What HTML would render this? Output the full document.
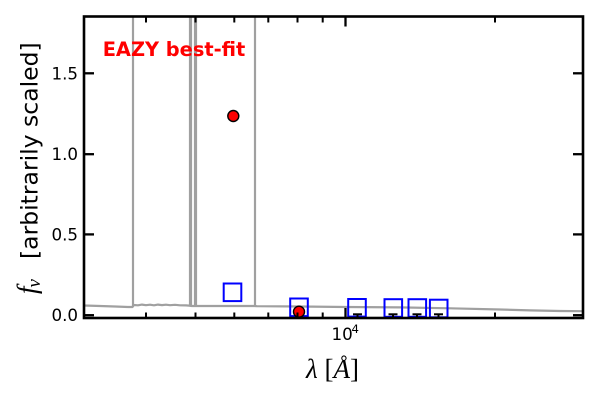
<!DOCTYPE html>
<html>
<head>
<meta charset="utf-8">
<style>
  html, body { margin: 0; padding: 0; background: #ffffff; }
  svg { display: block; }
</style>
</head>
<body>
<svg width="600" height="400" viewBox="0 0 600 400" xmlns="http://www.w3.org/2000/svg">
  <rect x="0" y="0" width="600" height="400" fill="#ffffff"/>
  <defs>
    <clipPath id="ax">
      <rect x="84" y="16.5" width="499" height="301.5"/>
    </clipPath>
  </defs>

  <g clip-path="url(#ax)">
    <!-- spectrum -->
    <polyline fill="none" stroke="#a0a0a0" stroke-width="2.2" stroke-linejoin="round"
      points="84,305.5 100,306 115,306.5 128,307 132.5,307 133.5,305 138,305.3 142,304.6 146,305.2 150,304.7 154,305.3 158,304.6 162,305.1 166,304.7 170,305.2 175,304.8 180,305.3 186,305.4 189,305.6 192,306 198,306 220,306 254,306 257,306.2 300,306.5 345,307 400,307.4 450,308.3 500,309.5 530,310.4 560,311 584,311.2"/>
    <!-- emission lines -->
    <line x1="133" y1="0" x2="133" y2="307" stroke="#a0a0a0" stroke-width="2.2"/>
    <line x1="190.5" y1="0" x2="190.5" y2="306" stroke="#a0a0a0" stroke-width="3.2"/>
    <line x1="195.5" y1="0" x2="195.5" y2="306" stroke="#a0a0a0" stroke-width="3.2"/>
    <line x1="255" y1="0" x2="255" y2="306" stroke="#a0a0a0" stroke-width="2.2"/>

    <!-- blue open squares -->
    <g fill="none" stroke="#0000ff" stroke-width="2">
      <rect x="223.7" y="283.5" width="17.6" height="17.6"/>
      <rect x="290.2" y="298.5" width="17.6" height="17.6"/>
      <rect x="348.2" y="299" width="17.6" height="17.6"/>
      <rect x="384.5" y="299.2" width="17.6" height="17.6"/>
      <rect x="408.5" y="299.2" width="17.6" height="17.6"/>
      <rect x="429.9" y="299.7" width="17.6" height="17.6"/>
    </g>

    <!-- error bar caps -->
    <g stroke="#000000" stroke-width="2">
      <line x1="353" y1="314.3" x2="362" y2="314.3"/>
      <line x1="357.5" y1="314.3" x2="357.5" y2="318"/>
      <line x1="388.5" y1="314.3" x2="397.5" y2="314.3"/>
      <line x1="393" y1="314.3" x2="393" y2="318"/>
      <line x1="412.5" y1="314.3" x2="421.5" y2="314.3"/>
      <line x1="417" y1="314.3" x2="417" y2="318"/>
      <line x1="434" y1="314.3" x2="443" y2="314.3"/>
      <line x1="438.5" y1="314.3" x2="438.5" y2="318"/>
    </g>

    <!-- red circles -->
    <circle cx="233.3" cy="116" r="5.5" fill="#ff0000" stroke="#000000" stroke-width="1.4"/>
    <circle cx="299" cy="311.7" r="5.5" fill="#ff0000" stroke="#000000" stroke-width="1.4"/>
  </g>

  <!-- ticks -->
  <g stroke="#000000" stroke-width="2.3">
    <line x1="84" y1="73.3" x2="94" y2="73.3"/>
    <line x1="84" y1="154.2" x2="94" y2="154.2"/>
    <line x1="84" y1="234.4" x2="94" y2="234.4"/>
    <line x1="84" y1="315.2" x2="94" y2="315.2"/>
    <line x1="573" y1="73.3" x2="583" y2="73.3"/>
    <line x1="573" y1="154.2" x2="583" y2="154.2"/>
    <line x1="573" y1="234.4" x2="583" y2="234.4"/>
    <line x1="573" y1="315.2" x2="583" y2="315.2"/>
    <line x1="345.5" y1="318" x2="345.5" y2="308"/>
    <line x1="345.5" y1="16.5" x2="345.5" y2="26.5"/>
  </g>
  <g stroke="#000000" stroke-width="2">
    <line x1="146" y1="318" x2="146" y2="312.5"/>
    <line x1="195.5" y1="318" x2="195.5" y2="312.5"/>
    <line x1="234.3" y1="318" x2="234.3" y2="312.5"/>
    <line x1="268.3" y1="318" x2="268.3" y2="312.5"/>
    <line x1="297.5" y1="318" x2="297.5" y2="312.5"/>
    <line x1="322.7" y1="318" x2="322.7" y2="312.5"/>
    <line x1="495" y1="318" x2="495" y2="312.5"/>
    <line x1="146" y1="16.5" x2="146" y2="22.5"/>
    <line x1="195.5" y1="16.5" x2="195.5" y2="22.5"/>
    <line x1="234.3" y1="16.5" x2="234.3" y2="22.5"/>
    <line x1="268.3" y1="16.5" x2="268.3" y2="22.5"/>
    <line x1="297.5" y1="16.5" x2="297.5" y2="22.5"/>
    <line x1="322.7" y1="16.5" x2="322.7" y2="22.5"/>
    <line x1="495" y1="16.5" x2="495" y2="22.5"/>
  </g>

  <!-- spines -->
  <rect x="84" y="16.5" width="499" height="301.5" fill="none" stroke="#000000" stroke-width="2.6"/>

  <!-- y tick labels -->
  <g font-family="'DejaVu Sans', 'Liberation Sans', sans-serif" font-size="16.7" fill="#000000" text-anchor="end">
    <text x="78" y="79.3">1.5</text>
    <text x="78" y="160.2">1.0</text>
    <text x="78" y="240.4">0.5</text>
    <text x="78" y="321">0.0</text>
  </g>

  <!-- x tick label 10^4 -->
  <g font-family="'DejaVu Sans', 'Liberation Sans', sans-serif" fill="#000000">
    <text x="331.5" y="340" font-size="16.7">10</text>
    <text x="351.5" y="333" font-size="11.7">4</text>
  </g>

  <!-- EAZY label -->
  <text x="102.7" y="56" font-family="'DejaVu Sans', 'Liberation Sans', sans-serif" font-weight="bold" font-size="19.4" fill="#ff0000">EAZY best-fit</text>

  <!-- x axis label -->
  <g font-family="'Liberation Serif', 'DejaVu Serif', serif" font-size="27" fill="#000000">
    <text x="306" y="378"><tspan font-style="italic">λ</tspan> [<tspan font-style="italic">Å</tspan>]</text>
  </g>

  <!-- y axis label -->
  <text transform="translate(37.5,259) rotate(-90)" x="0" y="0" font-family="'DejaVu Sans', 'Liberation Sans', sans-serif" font-size="23.5" fill="#000000">[arbitrarily scaled]</text>
  <text transform="translate(36,294) rotate(-90)" x="0" y="0" font-family="'Liberation Serif', 'DejaVu Serif', serif" font-size="27" fill="#000000"><tspan font-style="italic">f</tspan><tspan font-style="italic" font-size="19" dy="4" dx="-1">ν</tspan></text>
</svg>
</body>
</html>
